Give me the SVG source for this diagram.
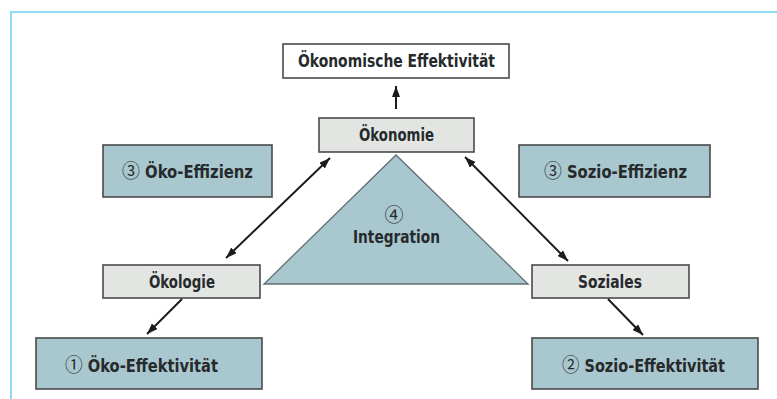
<svg xmlns="http://www.w3.org/2000/svg" width="777" height="399" viewBox="0 0 777 399">
<style>
.box{stroke:#4a4a4a;stroke-width:1.6}
.blue{fill:#a9c7ce}
.grey{fill:#e3e5e3}
.white{fill:#ffffff}
.t{font-family:"DejaVu Sans Condensed","DejaVu Sans","Liberation Sans",sans-serif;font-weight:bold;font-size:17.5px;fill:#262a2c}
.n{font-family:"Noto Sans CJK JP","DejaVu Sans",sans-serif;font-weight:400;font-size:19px}
.c{stroke:#1c1c1c;stroke-width:2;fill:none}
</style>
<defs>
<marker id="ah" markerUnits="userSpaceOnUse" markerWidth="12" markerHeight="8" refX="11" refY="4" orient="auto-start-reverse">
<path d="M0,0 L11,4 L0,8 Z" fill="#1c1c1c"/>
</marker>
</defs>
<path d="M11,399 V12 H777" fill="none" stroke="#8fd9f3" stroke-width="2"/>
<g id="integration">
<polygon points="396,155 264,284 528,284" fill="#a9c7ce" stroke="#5f6f73" stroke-width="1.3"/>
<text class="t n" x="394" y="222" text-anchor="middle" font-size="20">④</text>
<text class="t" x="396.5" y="243" text-anchor="middle" textLength="87" lengthAdjust="spacingAndGlyphs">Integration</text>
</g>
<g id="oekonomische-effektivitaet">
<rect class="box white" x="283" y="44" width="226" height="34"/>
<text class="t" x="396.5" y="67" text-anchor="middle" textLength="197" lengthAdjust="spacingAndGlyphs">Ökonomische Effektivität</text>
</g>
<g id="oekonomie">
<rect class="box grey" x="319" y="118" width="155" height="34"/>
<text class="t" x="396.5" y="141" text-anchor="middle" textLength="75" lengthAdjust="spacingAndGlyphs">Ökonomie</text>
</g>
<g id="oeko-effizienz">
<rect class="box blue" x="103" y="145" width="169" height="52"/>
<text class="t" x="122" y="178" textLength="131" lengthAdjust="spacingAndGlyphs"><tspan class="n">③</tspan> Öko-Effizienz</text>
</g>
<g id="sozio-effizienz">
<rect class="box blue" x="519" y="145" width="191" height="52"/>
<text class="t" x="544" y="178" textLength="143" lengthAdjust="spacingAndGlyphs"><tspan class="n">③</tspan> Sozio-Effizienz</text>
</g>
<g id="oekologie">
<rect class="box grey" x="103" y="265" width="157" height="33"/>
<text class="t" x="182" y="288" text-anchor="middle" textLength="66" lengthAdjust="spacingAndGlyphs">Ökologie</text>
</g>
<g id="soziales">
<rect class="box grey" x="532" y="265" width="157" height="33"/>
<text class="t" x="610" y="288" text-anchor="middle" textLength="64" lengthAdjust="spacingAndGlyphs">Soziales</text>
</g>
<g id="oeko-effektivitaet">
<rect class="box blue" x="36" y="338" width="226" height="51"/>
<text class="t" x="65" y="372" textLength="153" lengthAdjust="spacingAndGlyphs"><tspan class="n">①</tspan> Öko-Effektivität</text>
</g>
<g id="sozio-effektivitaet">
<rect class="box blue" x="532" y="338" width="226" height="51"/>
<text class="t" x="562" y="372" textLength="163" lengthAdjust="spacingAndGlyphs"><tspan class="n">②</tspan> Sozio-Effektivität</text>
</g>
<g id="connectors">
<line class="c" x1="396" y1="109" x2="396" y2="86" stroke-width="3" marker-end="url(#ah)"/>
<line class="c" x1="226" y1="258" x2="330" y2="158" marker-start="url(#ah)" marker-end="url(#ah)"/>
<line class="c" x1="465" y1="157" x2="568" y2="261" marker-start="url(#ah)" marker-end="url(#ah)"/>
<line class="c" x1="182" y1="299" x2="147" y2="334" marker-end="url(#ah)"/>
<line class="c" x1="608" y1="299" x2="643" y2="335" marker-end="url(#ah)"/>
</g>
</svg>
